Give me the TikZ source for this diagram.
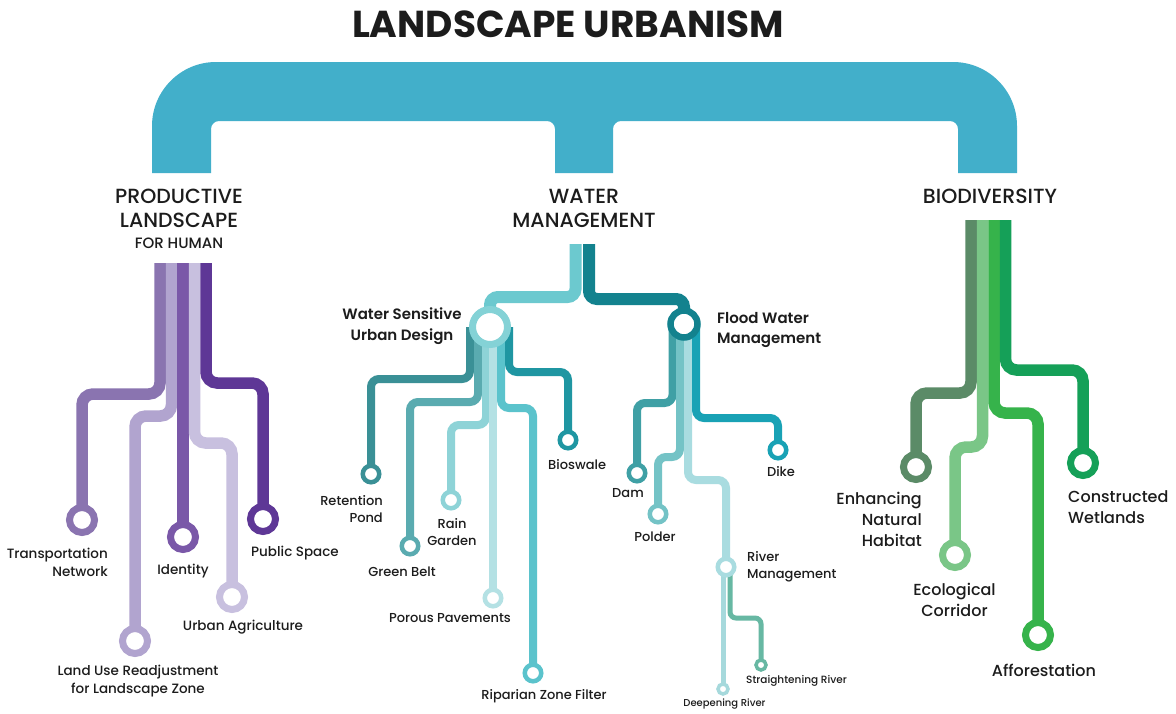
\documentclass[tikz,border=0pt]{standalone}
\usepackage{fontspec}
\setmainfont{Poppins}
\newfontfamily\pmed{Poppins Medium}
\newfontfamily\psemi{Poppins SemiBold}
\newfontfamily\pbold{Poppins Bold}
\pgfdeclarelayer{lines}
\pgfsetlayers{lines,main}

\definecolor{bar}{HTML}{42AFCA}
\definecolor{pA}{HTML}{8A74B0}
\definecolor{pB}{HTML}{B1A4CF}
\definecolor{pC}{HTML}{7A58A8}
\definecolor{pD}{HTML}{C8C0DF}
\definecolor{pE}{HTML}{5E3796}
\definecolor{wLight}{HTML}{6CC9CF}
\definecolor{wDark}{HTML}{13828E}
\definecolor{wsudRing}{HTML}{84D2D6}
\definecolor{ret}{HTML}{3A9096}
\definecolor{gbelt}{HTML}{5AABB0}
\definecolor{rain}{HTML}{8ED3D7}
\definecolor{porous}{HTML}{B4E1E4}
\definecolor{ripar}{HTML}{5BC3CC}
\definecolor{biosw}{HTML}{1F96A2}
\definecolor{dam}{HTML}{3FA0A5}
\definecolor{polder}{HTML}{74C3C6}
\definecolor{rivm}{HTML}{A9DCE0}
\definecolor{dike}{HTML}{19A2B5}
\definecolor{straight}{HTML}{67B8A3}
\definecolor{deep}{HTML}{A6D9DC}
\definecolor{gA}{HTML}{5B8B67}
\definecolor{gB}{HTML}{7AC687}
\definecolor{gC}{HTML}{36B34B}
\definecolor{gD}{HTML}{15A058}
\definecolor{ink}{HTML}{1C1C1C}

\begin{document}
\begin{tikzpicture}[x=1pt,y=-1pt,
  stem/.style={line width=11.5pt, rounded corners=11pt, shorten >=-5pt},
  trunkline/.style={line width=12pt, rounded corners=8pt, shorten >=-5pt},
  twig/.style={line width=8pt, rounded corners=8pt, shorten >=-4pt},
  sprig/.style={line width=5pt, rounded corners=6pt, shorten >=-3pt},
  bigring/.style={circle, draw=#1, fill=white, line width=7pt, minimum size=25pt, inner sep=0pt},
  midring/.style={circle, draw=#1, fill=white, line width=4.5pt, minimum size=16.5pt, inner sep=0pt},
  tinyring/.style={circle, draw=#1, fill=white, line width=3.5pt, minimum size=10pt, inner sep=0pt},
  lab/.style={inner sep=0pt, text=ink, font=\pmed\fontsize{13.5}{18}\selectfont},
  wlab/.style={inner sep=0pt, text=ink, font=\pmed\fontsize{13}{17}\selectfont},
  glab/.style={inner sep=0pt, text=ink, font=\pmed\fontsize{16}{21}\selectfont},
  hublab/.style={inner sep=0pt, text=ink, font=\psemi\fontsize{15}{20.5}\selectfont},
  smalllab/.style={inner sep=0pt, text=ink, font=\pmed\fontsize{#1}{#1}\selectfont},
  head/.style={inner sep=0pt, text=ink, font=\pmed\fontsize{20.5}{24}\selectfont},
]
\useasboundingbox (0,0) rectangle (1176,713);

% ---------- title and main bar ----------
\node[inner sep=0pt, text=ink, font=\pbold\fontsize{37.5}{40}\selectfont] (title) at (568,24) {LANDSCAPE URBANISM};

\begin{pgfonlayer}{lines}
\fill[white] (0,0) rectangle (1176,713);
\fill[bar] (152,173) -- (152,126) .. controls (152,90.7) and (180.7,62) .. (216,62)
  -- (953,62) .. controls (988.3,62) and (1017,90.7) .. (1017,126)
  -- (1017,173) -- (958,173) -- (958,129) .. controls (958,124.6) and (954.4,121) .. (950,121)
  -- (621,121) .. controls (616.6,121) and (613,124.6) .. (613,129)
  -- (613,173) -- (555,173) -- (555,129) .. controls (555,124.6) and (551.4,121) .. (547,121)
  -- (219,121) .. controls (214.6,121) and (211,124.6) .. (211,129) -- (211,173) -- cycle;
\end{pgfonlayer}

% ---------- category headings ----------
\node[head, align=center] (prodhead) at (179,208) {PRODUCTIVE\\LANDSCAPE};
\node[inner sep=0pt, text=ink, font=\pmed\fontsize{15}{18}\selectfont] (prodsub) at (179,243) {FOR HUMAN};
\node[head, align=center] (waterhead) at (584,208) {WATER\\MANAGEMENT};
\node[head] (biohead) at (990,196) {BIODIVERSITY};

% ---------- productive landscape ----------
\coordinate (p1) at (160,263);
\coordinate (p2) at (171.5,263);
\coordinate (p3) at (183,263);
\coordinate (p4) at (194.5,263);
\coordinate (p5) at (206,263);
\node[bigring=pA] (tn) at (82,520) {};
\node[bigring=pB] (lu) at (135,641) {};
\node[bigring=pC] (id) at (183,537) {};
\node[bigring=pD] (ua) at (232,597) {};
\node[bigring=pE] (ps) at (263,519) {};
\begin{pgfonlayer}{lines}
\draw[stem, pA] (p1) -- ++(0,131) -| (tn);
\draw[stem, pB] (p2) -- ++(0,153) -| (lu);
\draw[stem, pC] (p3) -- (id);
\draw[stem, pD] (p4) -- ++(0,180) -| (ua);
\draw[stem, pE] (p5) -- ++(0,120) -| (ps);
\end{pgfonlayer}
\node[lab, align=right, anchor=east] (tnl) at (108,562) {Transportation\\Network};
\node[lab, align=center] (lul) at (138,681) {Land Use Readjustment\\for Landscape Zone};
\node[lab] (idl) at (183,571) {Identity};
\node[lab] (ual) at (243,627) {Urban Agriculture};
\node[lab, anchor=west] (psl) at (251,553) {Public Space};

% ---------- water management ----------
\coordinate (w1) at (575.5,244);
\coordinate (w2) at (589,244);
\node[circle, draw=wsudRing, fill=white, line width=7pt, minimum size=35pt, inner sep=0pt] (wsud) at (490,327) {};
\node[circle, draw=wDark, fill=white, line width=6.5pt, minimum size=27pt, inner sep=0pt] (fwm) at (684,324) {};
\begin{pgfonlayer}{lines}
\draw[trunkline, wLight] (w1) -- ++(0,53) -| (wsud);
\draw[trunkline, wDark] (w2) -- ++(0,55) -| (fwm);
\end{pgfonlayer}
\node[hublab, align=center] (wsudl) at (402,326) {Water Sensitive\\Urban Design};
\node[hublab, align=left, anchor=west] (fwml) at (717,330) {Flood Water\\Management};

% water sensitive urban design
\coordinate (s1) at (470,327);
\coordinate (s2) at (478,327);
\coordinate (s3) at (486,327);
\coordinate (s4) at (493,327);
\coordinate (s5) at (501,327);
\coordinate (s6) at (509,327);
\node[midring=ret] (rp) at (371,474) {};
\node[midring=gbelt] (gb) at (410,546) {};
\node[midring=rain] (rg) at (451,500) {};
\node[midring=porous] (pp) at (493,598) {};
\node[midring=ripar] (rz) at (533,673) {};
\node[midring=biosw] (bs) at (568,440) {};
\begin{pgfonlayer}{lines}
\draw[twig, ret] (s1) -- ++(0,52) -| (rp);
\draw[twig, gbelt] (s2) -- ++(0,75) -| (gb);
\draw[twig, rain] (s3) -- ++(0,98) -| (rg);
\draw[twig, porous] (s4) -- (pp);
\draw[twig, ripar] (s5) -- ++(0,81) -| (rz);
\draw[twig, biosw] (s6) -- ++(0,45) -| (bs);
\end{pgfonlayer}
\node[wlab, align=right, anchor=east] (rpl) at (383,509.5) {Retention\\Pond};
\node[wlab, align=center] (gbl) at (402,572) {Green Belt};
\node[wlab, align=center] (rgl) at (452,532) {Rain\\Garden};
\node[wlab] (ppl) at (450,618) {Porous Pavements};
\node[wlab] (rzl) at (544,696) {Riparian Zone Filter};
\node[wlab, anchor=west] (bsl) at (548,465) {Bioswale};

% flood water management
\coordinate (f1) at (672.5,324);
\coordinate (f2) at (680,324);
\coordinate (f3) at (688,324);
\coordinate (f4) at (696,324);
\node[midring=dam] (dm) at (637,473) {};
\node[midring=polder] (pd) at (658,514) {};
\node[midring=rivm] (rm) at (726,567) {};
\node[midring=dike] (dk) at (778,450) {};
\begin{pgfonlayer}{lines}
\draw[twig, dam] (f1) -- ++(0,79) -| (dm);
\draw[twig, polder] (f2) -- ++(0,133) -| (pd);
\draw[twig, rivm] (f3) -- ++(0,156) -| (rm);
\draw[twig, dike] (f4) -- ++(0,94) -| (dk);
\end{pgfonlayer}
\node[wlab] (dml) at (628,493) {Dam};
\node[wlab] (pdl) at (655,537) {Polder};
\node[wlab] (dkl) at (781,472) {Dike};
\node[wlab, align=left, anchor=west] (rml) at (747,567) {River\\Management};

% river management
\coordinate (r1) at (723,567);
\coordinate (r2) at (730,567);
\node[tinyring=deep] (dr) at (723,689) {};
\node[tinyring=straight] (sr) at (761,665) {};
\begin{pgfonlayer}{lines}
\draw[sprig, deep] (r1) -- (dr);
\draw[sprig, straight] (r2) -- ++(0,51) -| (sr);
\end{pgfonlayer}
\node[smalllab=10.5, anchor=west] (srl) at (746,681) {Straightening River};
\node[smalllab=10] (drl) at (724.5,703.5) {Deepening River};

% ---------- biodiversity ----------
\coordinate (b1) at (971,220);
\coordinate (b2) at (982.5,220);
\coordinate (b3) at (994,220);
\coordinate (b4) at (1005.5,220);
\node[bigring=gA] (en) at (916,467) {};
\node[bigring=gB] (ec) at (955,555) {};
\node[bigring=gC] (af) at (1038,635) {};
\node[bigring=gD] (cw) at (1083,463) {};
\begin{pgfonlayer}{lines}
\draw[stem, gA] (b1) -- ++(0,173) -| (en);
\draw[stem, gB] (b2) -- ++(0,227) -| (ec);
\draw[stem, gC] (b3) -- ++(0,193) -| (af);
\draw[stem, gD] (b4) -- ++(0,150) -| (cw);
\end{pgfonlayer}
\node[glab, align=right, anchor=east] (enl) at (922,519.5) {Enhancing\\Natural\\Habitat};
\node[glab, align=center] (ecl) at (954.5,599.5) {Ecological\\Corridor};
\node[glab] (afl) at (1044,670) {Afforestation};
\node[glab, align=left, anchor=west] (cwl) at (1068,507) {Constructed\\Wetlands};
\end{tikzpicture}
\end{document}
